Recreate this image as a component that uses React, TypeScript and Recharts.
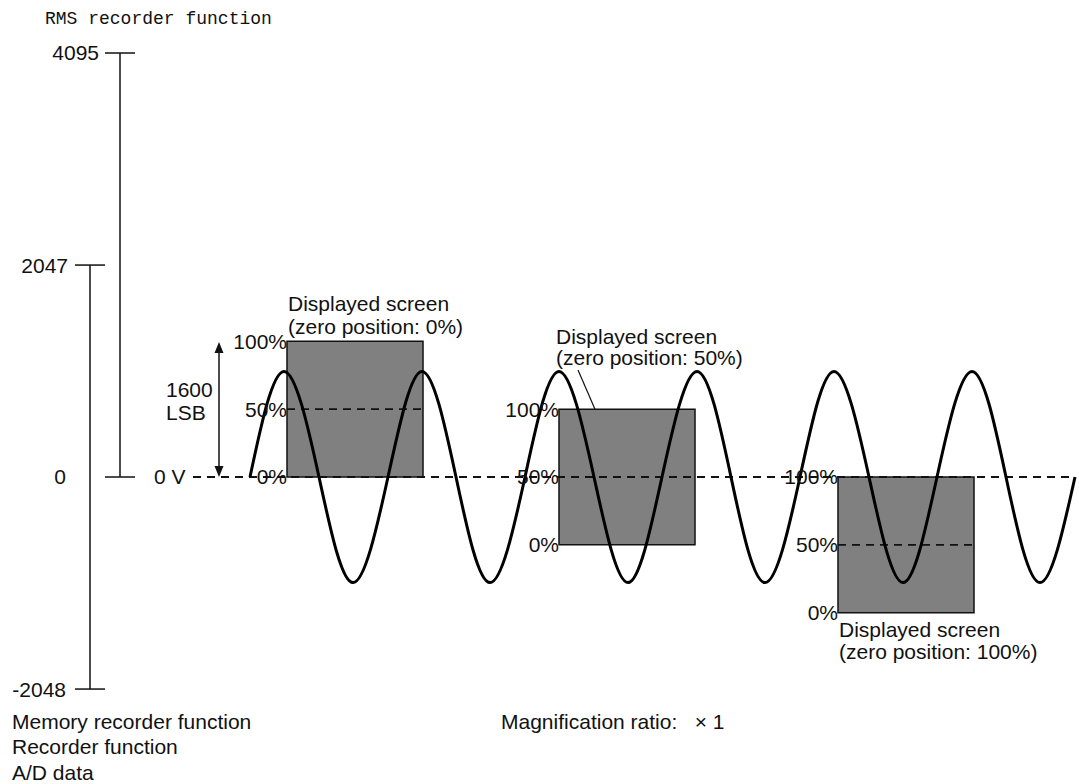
import {
  ComposedChart,
  Line,
  ReferenceArea,
  ReferenceDot,
  ReferenceLine,
  XAxis,
  YAxis,
} from 'recharts';

// A/D values, left scales
const RMS_TICKS = [4095, 0];
const MEM_TICKS = [2047, -2048];

// input waveform, read at quarter periods (x = time, y = A/D value)
const WAVE_X = [
  250, 284, 319, 353, 388, 422, 456, 490, 525, 559, 594, 628, 662,
  697, 731, 765, 800, 834, 869, 903, 937, 972, 1006, 1040, 1075,
];
const WAVE_Y = [
  0, 1020, 0, -1020, 0, 1020, 0, -1020, 0, 1020, 0, -1020, 0,
  1020, 0, -1020, 0, 1020, 0, -1020, 0, 1020, 0, -1020, 0,
];

// displayed screens
const SCREEN_START = [287, 559, 838];
const SCREEN_END = [423, 695, 974];
const SCREEN_BOTTOM = [0, -655, -1310];
const SCREEN_SPAN = 1310;
const ZERO_POSITION = ['0%', '50%', '100%'];
const PCT_LABELS = ['0%', '50%', '100%'];

const W = 1079;
const H = 784;
const Y_DOMAIN: [number, number] = [-2965, 4607];

const INK = '#111';
const BOX_FILL = '#808080';
const SANS = '"Liberation Sans", Arial, Helvetica, sans-serif';
const MONO = '"Liberation Mono", "DejaVu Sans Mono", monospace';
const FS = 21;
const DASH = '8 6';
const NB = '\u00a0';

const waveData = WAVE_X.map((x, i) => ({ x, y: WAVE_Y[i] }));

const note = (
  key: string,
  x: number,
  y: number,
  text: string,
  position: 'left' | 'right' | 'center' = 'right',
  offset = 0,
  font = SANS,
  size = FS
) => (
  <ReferenceDot
    key={key}
    x={x}
    y={y}
    r={0}
    fill="none"
    stroke="none"
    label={{ value: text, position, offset, fill: INK, fontSize: size, fontFamily: font }}
  />
);

const seg = (key: string, x1: number, y1: number, x2: number, y2: number, dash?: string, width = 1.5) => (
  <ReferenceLine
    key={key}
    segment={[{ x: x1, y: y1 }, { x: x2, y: y2 }]}
    stroke={INK}
    strokeWidth={width}
    strokeDasharray={dash}
  />
);

const arrowHead = (key: string, x: number, y: number, up: boolean) => (
  <ReferenceDot
    key={key}
    x={x}
    y={y}
    r={1}
    shape={(p: any) => (
      <path
        d={
          up
            ? `M${p.cx},${p.cy} L${p.cx - 4.5},${p.cy + 11} L${p.cx + 4.5},${p.cy + 11} Z`
            : `M${p.cx},${p.cy} L${p.cx - 4.5},${p.cy - 11} L${p.cx + 4.5},${p.cy - 11} Z`
        }
        fill={INK}
      />
    )}
  />
);

export default function App() {
  return (
    <div style={{ position: 'absolute', left: 0, top: 0, width: W, height: H, background: '#fff' }}>
      <ComposedChart width={W} height={H} margin={{ top: 0, right: 0, bottom: 0, left: 0 }}>
        <XAxis type="number" dataKey="x" domain={[0, W]} hide allowDataOverflow />
        <YAxis type="number" domain={Y_DOMAIN} hide allowDataOverflow />

        {/* displayed screens */}
        {SCREEN_START.map((x1, i) => (
          <ReferenceArea
            key={`box-${i}`}
            x1={x1}
            x2={SCREEN_END[i]}
            y1={SCREEN_BOTTOM[i]}
            y2={SCREEN_BOTTOM[i] + SCREEN_SPAN}
            fill={BOX_FILL}
            fillOpacity={1}
            stroke={INK}
            strokeWidth={1.5}
          />
        ))}

        {/* 0 V line and 50% lines */}
        {seg('zero', 193, 0, 1075, 0, DASH, 1.8)}
        {seg('mid-0', SCREEN_START[0], SCREEN_BOTTOM[0] + SCREEN_SPAN / 2, SCREEN_END[0], SCREEN_BOTTOM[0] + SCREEN_SPAN / 2, DASH, 1.8)}
        {seg('mid-2', SCREEN_START[2], SCREEN_BOTTOM[2] + SCREEN_SPAN / 2, SCREEN_END[2], SCREEN_BOTTOM[2] + SCREEN_SPAN / 2, DASH, 1.8)}

        {/* scales */}
        {seg('rms-axis', 120, RMS_TICKS[1], 120, RMS_TICKS[0])}
        {RMS_TICKS.map((t) => seg(`rms-${t}`, 105, t, 135, t))}
        {seg('mem-axis', 90, MEM_TICKS[1], 90, MEM_TICKS[0])}
        {MEM_TICKS.map((t) => seg(`mem-${t}`, 75, t, 105, t))}

        {note('t4095', 105, 4095, '4095', 'left', 6)}
        {note('t2047', 75, 2047, '2047', 'left', 7)}
        {note('t0', 60, 0, '0', 'center')}
        {note('tm2048', 75, -2048, '-2048', 'left', 9)}
        {note('title', 45, 4433, 'RMS recorder function', 'right', 0, MONO, 18)}
        {note('zv', 154, 0, `0${NB}V`)}

        {/* 1600 LSB span */}
        {seg('span', 219, 80, 219, 1230, undefined, 1.5)}
        {arrowHead('span-top', 219, 1304, true)}
        {arrowHead('span-bot', 219, 0, false)}
        {note('lsb1', 166, 840, '1600')}
        {note('lsb2', 166, 618, 'LSB')}

        {/* percent marks */}
        {SCREEN_START.map((x1, i) =>
          PCT_LABELS.map((p, j) =>
            note(`pct-${i}-${j}`, x1, SCREEN_BOTTOM[i] + (SCREEN_SPAN * j) / 2, p, 'left', 0)
          )
        )}

        {/* screen captions */}
        {note('c0a', 288, 1671, 'Displayed screen')}
        {note('c0b', 288, 1449, `(zero position: ${ZERO_POSITION[0]})`)}
        {note('c1a', 556, 1352, 'Displayed screen')}
        {note('c1b', 556, 1149, `(zero position: ${ZERO_POSITION[1]})`)}
        {seg('lead', 578, 1033, 595, SCREEN_BOTTOM[1] + SCREEN_SPAN, undefined, 1.2)}
        {note('c2a', 839, -1478, 'Displayed screen')}
        {note('c2b', 839, -1690, `(zero position: ${ZERO_POSITION[2]})`)}

        <Line
          data={waveData}
          dataKey="y"
          type="natural"
          stroke="#000"
          strokeWidth={3}
          dot={false}
          activeDot={false}
          isAnimationActive={false}
        />

        {note('b1', 12, -2366, 'Memory recorder function')}
        {note('b2', 12, -2608, 'Recorder function')}
        {note('b3', 12, -2859, 'A/D data')}
        {note('mag', 501, -2357, `Magnification ratio:${NB}${NB}${NB}×${NB}1`)}
      </ComposedChart>
    </div>
  );
}
